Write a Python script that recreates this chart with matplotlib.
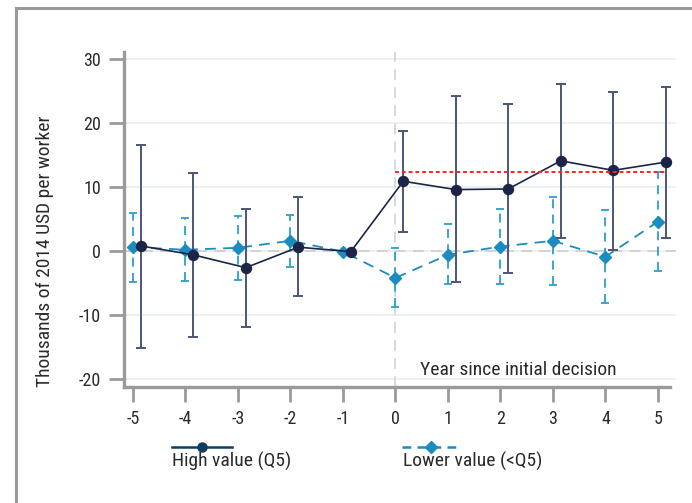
import matplotlib
matplotlib.use("Agg")
import matplotlib.pyplot as plt
from matplotlib.lines import Line2D
from matplotlib import font_manager
import numpy as np

# ---------------- data ----------------
years = [-5, -4, -3, -2, -1, 0, 1, 2, 3, 4, 5]
high_vals = [0.8, -0.6, -2.6, 0.6, -0.1, 10.9, 9.6, 9.7, 14.1, 12.6, 13.9]
high_lo = [-15.1, -13.4, -11.8, -7.1, -0.1, 3.0, -4.9, -3.4, 2.1, 0.1, 2.0]
high_hi = [16.6, 12.2, 6.5, 8.4, -0.1, 18.7, 24.2, 23.0, 26.1, 24.9, 25.6]
low_vals = [0.6, 0.2, 0.5, 1.6, -0.1, -4.2, -0.6, 0.7, 1.6, -0.9, 4.6]
low_lo = [-4.9, -4.7, -4.5, -2.5, -0.1, -8.7, -5.2, -5.2, -5.3, -8.2, -3.2]
low_hi = [5.9, 5.1, 5.5, 5.7, -0.1, 0.5, 4.2, 6.5, 8.4, 6.4, 12.4]
ref_level = 12.3
yticks = [-20, -10, 0, 10, 20, 30]
high_label = "High value (Q5)"
low_label = "Lower value (<Q5)"
ylabel = "Thousands of 2014 USD per worker"
xnote = "Year since initial decision"

# ---------------- fonts ----------------
avail = {f.name for f in font_manager.fontManager.ttflist}
fam = [f for f in ["Liberation Sans Narrow", "Roboto Condensed", "Open Sans Condensed",
                   "Liberation Sans", "DejaVu Sans"] if f in avail]
plt.rcParams["font.family"] = fam
narrow = fam[0] in ("Liberation Sans Narrow", "Roboto Condensed", "Open Sans Condensed")
fs_tick = 13 if narrow else 11
fs_lab = 14 if narrow else 12

TXT = "#2a2a2a"
NAVY = "#1c2547"
NAVY_ERR = "#4a5578"
TEAL = "#1a8cbf"
TEAL_ERR = "#2aa0cc"
GREY = "#9a9a9a"

W, H = 692, 503
fig = plt.figure(figsize=(W / 100, H / 100), dpi=100)
fig.patch.set_facecolor("white")

x0, x1 = -5.17, 5.35
y0, y1 = -21.25, 31.1
left_px, right_px, top_px, bot_px = 124, 676.3, 52, 387
ax = fig.add_axes([left_px / W, 1 - bot_px / H, (right_px - left_px) / W, (bot_px - top_px) / H])
ax.set_xlim(x0, x1)
ax.set_ylim(y0, y1)

# grid
for yt in yticks:
    ax.axhline(yt, color="#e9eff1", lw=1.3, zorder=0)
ax.axhline(0, color="#cfcfcf", lw=1.3, ls=(0, (6, 4)), zorder=1)
ax.axvline(0, color="#d5d5d5", lw=1.3, ls=(0, (6, 4)), zorder=1)

yrs = np.array(years, dtype=float)
hv = np.array(high_vals); lv = np.array(low_vals)
hlo = np.array(high_lo); hhi = np.array(high_hi)
llo = np.array(low_lo); lhi = np.array(low_hi)
xh = yrs + 0.15

# lower series (dashed)
ci_mask = yrs != -1
eb = ax.errorbar(yrs[ci_mask], lv[ci_mask], yerr=[lv[ci_mask] - llo[ci_mask], lhi[ci_mask] - lv[ci_mask]],
                 fmt="none", ecolor=TEAL_ERR, elinewidth=1.3, capsize=3, capthick=1.3, zorder=2)
for c in eb[2]:
    c.set_linestyle((0, (5, 3.5)))
ax.plot(yrs, lv, color=TEAL, lw=1.3, ls=(0, (6, 4)), marker="D", ms=6.5,
        markerfacecolor=TEAL, markeredgecolor=TEAL, zorder=3)

# high series (solid)
ax.errorbar(xh[ci_mask], hv[ci_mask], yerr=[hv[ci_mask] - hlo[ci_mask], hhi[ci_mask] - hv[ci_mask]],
            fmt="none", ecolor=NAVY_ERR, elinewidth=1.4, capsize=3.6, capthick=1.4, zorder=4)
ax.plot(xh, hv, color=NAVY, lw=1.2, marker="o", ms=7.2,
        markerfacecolor=NAVY, markeredgecolor=NAVY, zorder=5)

# reference red dotted line
ax.plot([0, 5.17], [ref_level, ref_level], color="#ff2020", lw=1.4, ls=(0, (2, 1.5)), zorder=6)

ax.text(0.46, -19.4, xnote, fontsize=fs_lab, color=TXT, ha="left", va="baseline")

# axes styling
for s in ["top", "right"]:
    ax.spines[s].set_visible(False)
for s in ["left", "bottom"]:
    ax.spines[s].set_color(GREY)
    ax.spines[s].set_linewidth(2.4)
ax.spines["bottom"].set_bounds(x0, 5.23)
ax.set_yticks(yticks)
ax.set_yticklabels([str(v) for v in yticks])
ax.set_xticks(years)
ax.set_xticklabels([str(v) for v in years])
ax.tick_params(axis="both", colors=GREY, length=10.5, width=2, labelsize=fs_tick,
               labelcolor=TXT, pad=6)
ax.set_facecolor("none")

fig.text(45 / W, 1 - 251 / H, ylabel, rotation=90, ha="center", va="center",
         fontsize=fs_lab, color=TXT)

# legend (handle above label)
ly = 1 - 447 / H
fig.add_artist(Line2D([172 / W, 232 / W], [ly, ly], color="#0f3d5e", lw=1.8))
fig.add_artist(Line2D([202 / W], [ly], color="#0f3d5e", marker="o", ms=6.5))
fig.add_artist(Line2D([402 / W, 460 / W], [ly, ly], color=TEAL, lw=1.8, ls=(0, (3.5, 2.5))))
fig.add_artist(Line2D([431 / W], [ly], color=TEAL, marker="D", ms=6.5))
fig.text(172 / W, 1 - 467 / H, high_label, fontsize=fs_lab, color=TXT, ha="left", va="baseline")
fig.text(403 / W, 1 - 467 / H, low_label, fontsize=fs_lab, color=TXT, ha="left", va="baseline")

# outer frame (partial)
fx = 16 / W
fy = 1 - 8 / H
fig.add_artist(Line2D([fx, fx], [0, fy], color="#9a9a9a", lw=2.2))
fig.add_artist(Line2D([fx, 1], [fy, fy], color="#9a9a9a", lw=2.2))

fig.savefig("out.png", dpi=100, facecolor="white")
